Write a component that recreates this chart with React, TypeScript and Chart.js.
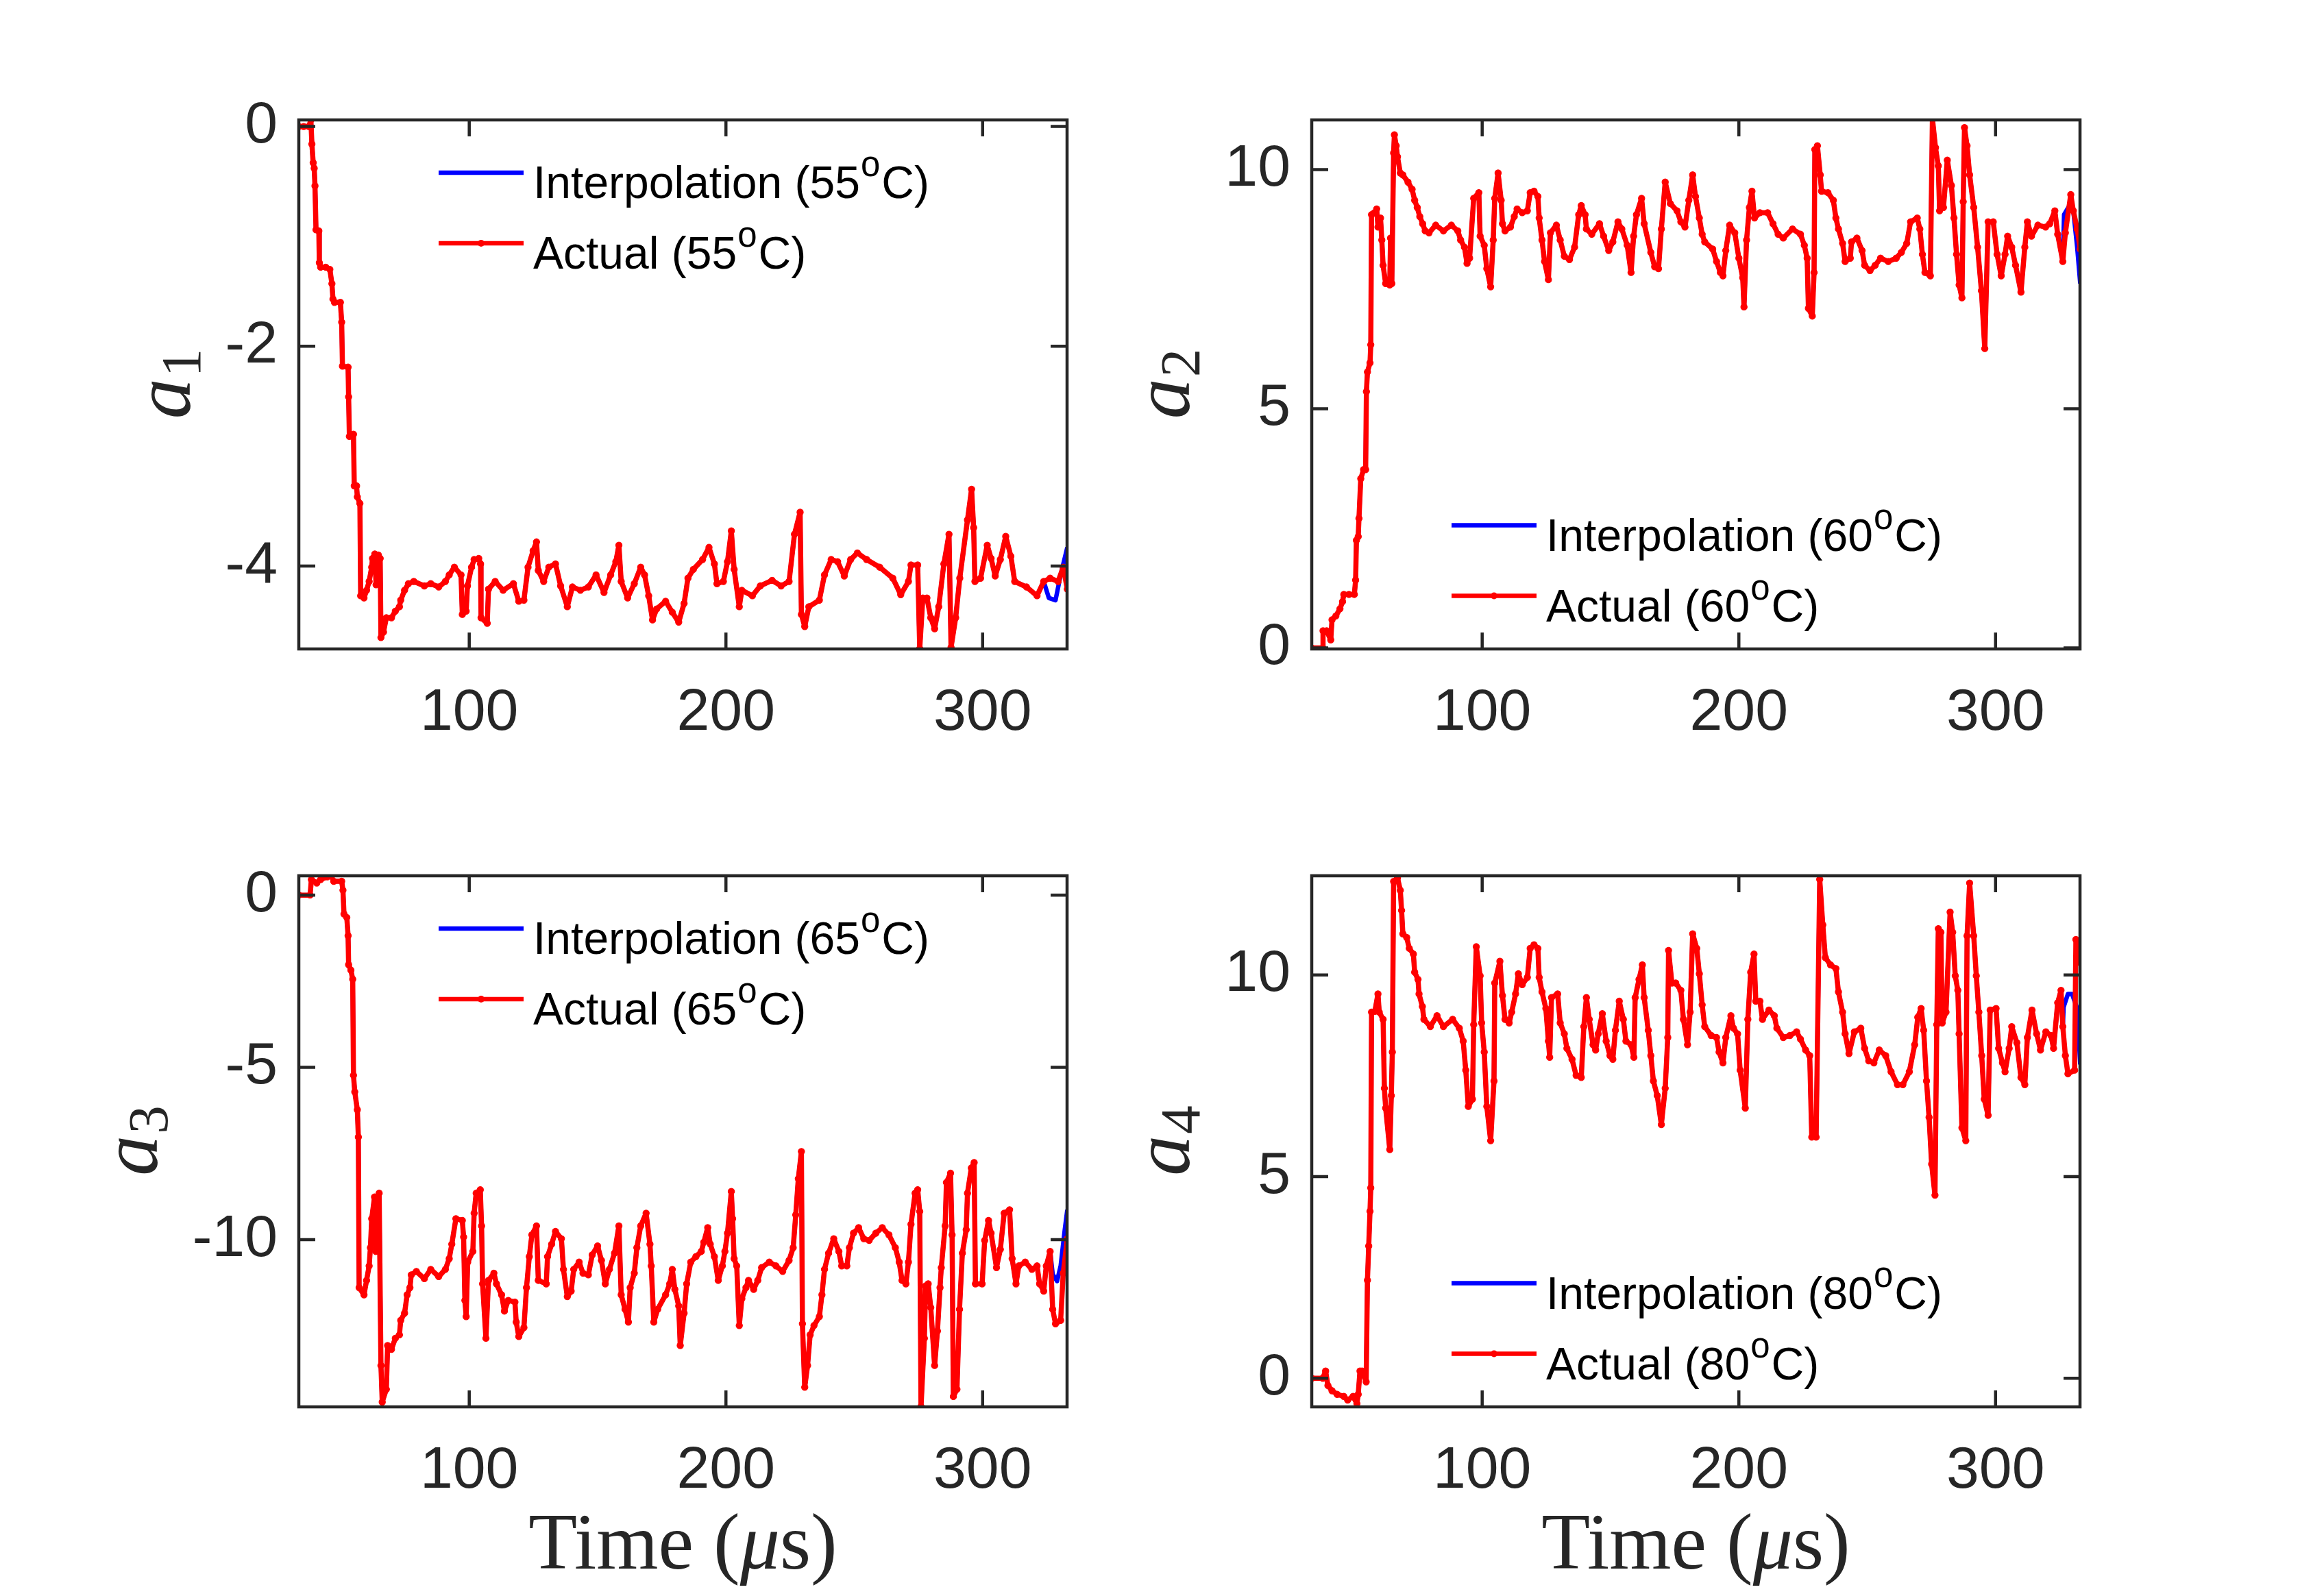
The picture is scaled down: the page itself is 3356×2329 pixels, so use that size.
import { useEffect, useRef } from "react";
import { Chart, registerables } from "chart.js";
import type { Plugin } from "chart.js";

Chart.register(...registerables);

type Pt = [number, number];

// time axis (microseconds)
const timeRange = [33.6, 332.9];
const timeTicks = [100, 200, 300];

// y axes
const a1Ticks = [-4, -2, 0];
const a2Ticks = [0, 5, 10];
const a3Ticks = [-10, -5, 0];
const a4Ticks = [0, 5, 10];
const a1Range = [-4.754, 0.06];
const a2Range = [-0.02, 11.04];
const a3Range = [-14.85, 0.56];
const a4Range = [-0.71, 12.46];

const temps = ["55", "60", "65", "80"];

// a1, 55 C : [time, value]
const a1Actual: Pt[] = [
  [33.6, 0], [35.5, 0], [37.5, 0], [38.3, 0.06], [38.7, -0.16], [39.2, -0.33], [39.6, -0.38],
  [39.9, -0.54], [40.3, -0.94], [41.4, -0.95], [41.6, -1.24], [42.1, -1.28], [44.1, -1.28],
  [45.7, -1.3], [46.5, -1.43], [46.9, -1.57], [47.5, -1.6], [49.8, -1.6], [50.3, -1.78],
  [50.6, -2.18], [52.8, -2.19], [53.0, -2.46], [53.3, -2.82], [54.9, -2.8], [55.2, -3.27],
  [56.1, -3.27], [56.4, -3.37], [57.4, -3.43], [57.7, -4.27], [59.0, -4.29], [60.0, -4.22],
  [61.0, -4.14], [62.0, -4.01], [62.3, -3.93], [63.2, -3.89], [63.7, -4.17], [64.6, -3.9],
  [65.3, -3.93], [65.6, -4.65], [66.6, -4.6], [67.7, -4.47], [69.7, -4.47], [71.2, -4.41],
  [72.8, -4.37], [73.3, -4.31], [74.8, -4.22], [76.3, -4.16], [78.4, -4.14], [82.5, -4.18],
  [85.0, -4.16], [88.1, -4.19], [90.7, -4.14], [92.2, -4.08], [94.2, -4.01], [96.8, -4.08],
  [97.3, -4.44], [98.8, -4.41], [99.3, -4.18], [100.9, -4.01], [101.9, -3.94], [103.7, -3.93],
  [104.4, -3.98], [104.6, -4.47], [107.0, -4.52], [107.5, -4.21], [110.1, -4.14], [113.2, -4.22],
  [117.2, -4.16], [119.3, -4.32], [121.3, -4.31], [122.9, -4.01], [124.9, -3.86], [126.2, -3.78],
  [126.9, -4.04], [129.0, -4.14], [131.0, -4.01], [133.6, -3.98], [135.6, -4.18], [138.2, -4.37],
  [140.2, -4.19], [143.3, -4.22], [146.4, -4.19], [149.4, -4.08], [152.5, -4.24], [155.1, -4.08],
  [157.1, -3.96], [158.3, -3.81], [159.2, -4.14], [161.7, -4.29], [164.3, -4.16], [166.8, -4.01],
  [168.3, -4.08], [169.9, -4.27], [171.4, -4.49], [173.0, -4.39], [176.5, -4.32], [179.1, -4.42],
  [181.6, -4.51], [183.7, -4.34], [185.2, -4.11], [187.3, -4.03], [190.9, -3.94], [193.4, -3.83],
  [195.5, -3.98], [196.5, -4.16], [199.0, -4.14], [200.6, -3.96], [202.1, -3.68], [203.2, -4.03],
  [205.2, -4.37], [206.2, -4.22], [210.3, -4.27], [213.4, -4.18], [218.0, -4.13], [221.5, -4.18],
  [224.6, -4.14], [226.7, -3.71], [228.9, -3.51], [229.4, -4.44], [230.7, -4.55], [232.3, -4.37],
  [236.4, -4.31], [238.4, -4.08], [241.0, -3.94], [243.5, -3.96], [246.1, -4.09], [248.6, -3.94],
  [251.2, -3.88], [254.8, -3.94], [259.9, -4.01], [265.0, -4.11], [268.1, -4.26], [271.1, -4.14],
  [272.1, -3.99], [274.7, -3.99], [275.5, -4.75], [276.7, -4.29], [278.3, -4.29], [279.8, -4.47],
  [281.3, -4.57], [282.9, -4.37], [284.9, -3.98], [286.9, -3.71], [287.7, -4.74], [289.5, -4.47],
  [291.1, -4.11], [294.1, -3.58], [295.7, -3.3], [296.5, -3.65], [297.0, -4.14], [299.2, -4.11],
  [301.8, -3.81], [303.3, -3.93], [304.9, -4.09], [306.9, -3.94], [309.0, -3.73], [311.0, -3.91],
  [312.5, -4.14], [317.1, -4.19], [321.2, -4.27], [323.8, -4.14], [326.3, -4.11], [329.4, -4.14],
  [331.4, -4.01], [333.0, -4.21],
];
const a1InterpTail: Pt[] = [[325.8, -4.29], [328.4, -4.31], [330.4, -4.08], [333.0, -3.83]];

// a2, 60 C
const a2Actual: Pt[] = [
  [33.6, 0], [37.9, 0], [38.0, 0.36], [39.4, 0.36], [41.0, 0.17], [41.5, 0.59], [43.0, 0.67],
  [44.6, 0.82], [45.6, 0.97], [46.1, 1.12], [48.1, 1.12], [50.2, 1.12], [50.7, 1.42], [51.0, 2.25],
  [51.7, 2.33], [52.0, 2.71], [52.7, 3.54], [53.8, 3.73], [54.6, 3.73], [54.9, 5.36], [55.3, 5.77],
  [56.3, 5.96], [56.6, 6.34], [56.9, 9.06], [58.0, 9.1], [58.9, 9.18], [59.4, 8.8], [60.4, 8.99],
  [60.9, 8.53], [61.4, 8.0], [62.4, 7.62], [64.0, 7.59], [64.3, 8.57], [64.8, 7.62], [65.5, 10.35],
  [65.8, 10.73], [66.5, 10.5], [67.0, 10.27], [68.1, 9.93], [69.1, 9.89], [71.1, 9.74], [72.7, 9.59],
  [73.7, 9.36], [74.7, 9.21], [75.7, 9.02], [76.8, 8.87], [77.8, 8.72], [79.3, 8.68], [81.9, 8.84],
  [84.9, 8.72], [88.0, 8.84], [90.5, 8.72], [91.6, 8.53], [93.1, 8.38], [94.1, 8.04], [95.1, 8.15],
  [96.7, 9.4], [98.7, 9.52], [99.2, 8.61], [100.8, 8.42], [101.8, 7.93], [103.3, 7.55], [104.3, 8.53],
  [104.9, 9.4], [106.2, 9.93], [107.4, 9.36], [107.9, 8.87], [108.9, 8.72], [111.0, 8.8], [112.5, 9.02],
  [113.6, 9.18], [115.6, 9.1], [117.6, 9.14], [118.7, 9.52], [120.2, 9.55], [121.7, 9.44], [122.2, 8.99],
  [123.3, 8.53], [124.3, 8.08], [125.8, 7.7], [126.6, 8.68], [128.9, 8.84], [130.4, 8.53], [132.0, 8.19],
  [134.0, 8.12], [136.0, 8.38], [137.6, 9.06], [138.6, 9.25], [140.1, 9.06], [140.6, 8.76], [142.7, 8.65],
  [145.7, 8.87], [147.3, 8.61], [149.3, 8.31], [150.9, 8.49], [152.9, 8.91], [154.4, 8.76], [156.5, 8.42],
  [158.0, 7.85], [159.0, 8.61], [160.1, 9.06], [162.1, 9.4], [163.1, 8.87], [165.7, 8.27], [167.2, 7.97],
  [168.7, 7.93], [169.8, 8.76], [171.3, 9.74], [173.3, 9.29], [175.9, 9.14], [177.4, 8.91], [179.0, 8.8],
  [180.5, 9.36], [182.0, 9.89], [183.1, 9.44], [184.6, 8.99], [185.7, 8.65], [186.7, 8.49], [189.8, 8.34],
  [191.3, 8.08], [192.8, 7.85], [193.8, 7.78], [194.9, 8.31], [196.4, 8.84], [198.4, 8.68], [200.0, 8.15],
  [201.5, 7.74], [202.0, 7.13], [203.0, 8.53], [204.1, 9.21], [205.1, 9.55], [206.1, 8.99], [208.2, 9.1],
  [211.2, 9.1], [213.3, 8.87], [215.3, 8.65], [217.3, 8.57], [220.9, 8.76], [224.0, 8.65], [225.5, 8.42],
  [226.6, 8.15], [227.1, 7.1], [228.6, 6.94], [229.3, 7.85], [229.6, 10.42], [230.6, 10.5], [231.7, 9.89],
  [232.2, 9.55], [234.7, 9.52], [236.8, 9.36], [237.8, 8.99], [238.8, 8.76], [240.4, 8.46], [241.4, 8.08],
  [243.4, 8.15], [243.9, 8.49], [246.0, 8.57], [248.0, 8.31], [249.0, 8.0], [251.1, 7.89], [253.1, 8.0],
  [255.2, 8.15], [258.2, 8.08], [261.3, 8.15], [263.3, 8.27], [265.4, 8.46], [266.9, 8.91], [269.5, 8.99],
  [270.5, 8.76], [271.5, 8.23], [272.5, 7.85], [274.6, 7.78], [275.4, 11.07], [276.6, 10.46], [277.7, 10.08],
  [278.2, 9.14], [279.7, 9.21], [281.2, 10.2], [282.8, 9.67], [283.8, 8.99], [284.8, 8.23], [285.8, 7.59],
  [286.9, 7.32], [287.4, 9.33], [287.9, 10.88], [288.9, 10.5], [289.9, 9.89], [291.5, 9.21], [293.0, 8.38],
  [294.5, 7.47], [295.8, 6.26], [297.1, 8.91], [299.1, 8.91], [300.6, 8.23], [302.2, 7.78], [303.7, 8.23],
  [304.7, 8.61], [306.3, 8.38], [307.8, 8.0], [309.9, 7.44], [311.4, 8.38], [312.4, 8.91], [314.0, 8.61],
  [316.5, 8.84], [319.5, 8.8], [321.1, 8.87], [323.1, 9.14], [324.2, 8.65], [326.2, 8.08], [327.2, 8.68],
  [329.3, 9.48], [330.3, 9.14], [331.8, 8.76], [333.0, 8.34],
];
const a2InterpTail: Pt[] = [[326.7, 9.06], [328.8, 9.25], [330.3, 9.14], [331.8, 8.38], [333.0, 7.62]];

// a3, 65 C
const a3Actual: Pt[] = [
  [33.6, 0], [38.0, 0], [38.5, 0.45], [40.6, 0.35], [42.1, 0.45], [44.7, 0.53], [46.2, 0.56],
  [47.2, 0.4], [50.3, 0.4], [50.8, 0.14], [51.2, -0.55], [52.3, -0.65], [52.8, -1.18], [53.0, -2.02],
  [53.9, -2.18], [54.6, -2.44], [54.9, -5.23], [55.4, -5.71], [56.4, -6.23], [56.8, -7.02],
  [57.1, -11.39], [59.0, -11.6], [60.0, -11.18], [61.0, -10.76], [61.5, -10.23], [62.0, -9.39],
  [63.1, -8.76], [63.6, -10.34], [64.9, -8.65], [65.6, -13.65], [66.1, -14.71], [67.7, -14.34],
  [68.2, -13.07], [69.7, -13.18], [71.2, -12.86], [72.8, -12.76], [73.3, -12.34], [74.8, -12.13],
  [75.8, -11.6], [76.9, -11.39], [77.4, -11.02], [79.4, -10.92], [82.5, -11.13], [85.0, -10.86],
  [88.1, -11.07], [90.7, -10.86], [92.2, -10.55], [93.2, -10.13], [94.8, -9.39], [97.3, -9.44],
  [97.8, -9.92], [98.3, -11.76], [98.8, -12.23], [99.4, -10.65], [101.4, -10.34], [101.9, -9.23],
  [102.7, -8.65], [104.3, -8.55], [104.8, -9.6], [105.2, -11.28], [106.5, -12.86], [107.5, -11.18],
  [109.6, -10.97], [110.6, -11.28], [112.6, -11.6], [113.7, -12.07], [115.2, -11.76], [117.8, -11.81],
  [118.3, -12.39], [119.3, -12.81], [121.3, -12.55], [122.3, -11.39], [123.4, -10.49], [124.4, -9.86],
  [126.2, -9.6], [126.9, -11.18], [130.0, -11.28], [130.5, -10.49], [132.1, -10.13], [133.6, -9.76],
  [135.9, -9.97], [136.7, -10.86], [138.2, -11.65], [139.7, -11.49], [140.7, -10.86], [142.8, -10.65],
  [144.3, -10.97], [146.4, -11.02], [147.9, -10.44], [150.0, -10.18], [151.5, -10.6], [153.0, -11.28],
  [154.6, -10.86], [156.6, -10.39], [158.3, -9.6], [159.2, -11.6], [160.7, -12.02], [162.0, -12.39],
  [162.7, -11.39], [164.3, -10.97], [165.3, -10.23], [166.8, -9.6], [168.9, -9.23], [170.4, -10.13],
  [170.9, -10.76], [171.9, -12.39], [173.4, -12.02], [176.5, -11.6], [178.1, -11.28], [179.1, -10.86],
  [180.1, -11.44], [181.6, -11.92], [182.2, -13.07], [183.7, -12.13], [184.7, -11.28], [186.3, -10.65],
  [188.3, -10.49], [190.4, -10.34], [191.4, -10.07], [192.9, -9.65], [193.9, -10.13], [195.5, -10.49],
  [197.0, -11.18], [198.6, -10.76], [199.6, -10.34], [200.6, -9.81], [202.1, -8.6], [202.6, -9.39],
  [203.2, -10.55], [204.2, -10.76], [205.2, -12.49], [206.2, -11.71], [207.8, -11.39], [208.8, -11.18],
  [210.8, -11.44], [212.4, -11.18], [213.9, -10.81], [216.9, -10.65], [219.5, -10.76], [222.1, -10.92],
  [224.6, -10.6], [226.2, -10.23], [227.2, -9.28], [228.2, -8.23], [229.4, -7.44], [229.8, -12.44],
  [230.7, -14.28], [231.8, -13.65], [232.8, -12.76], [234.3, -12.49], [236.4, -12.23], [237.4, -11.6],
  [238.4, -10.86], [240.0, -10.39], [242.0, -9.97], [244.0, -10.34], [245.1, -10.76], [247.1, -10.76],
  [248.1, -10.23], [249.7, -9.81], [251.7, -9.65], [253.7, -9.97], [255.8, -10.02], [258.4, -9.81],
  [260.9, -9.65], [263.5, -9.86], [266.0, -10.23], [267.5, -10.65], [268.6, -11.18], [270.1, -11.28],
  [271.1, -10.65], [272.1, -9.55], [273.7, -8.65], [274.7, -8.55], [275.5, -9.18], [276.0, -14.84],
  [277.3, -12.86], [277.8, -11.34], [278.8, -11.28], [279.8, -11.97], [281.3, -13.65], [282.4, -12.65],
  [283.4, -11.39], [283.9, -10.81], [285.4, -9.6], [285.9, -8.34], [287.5, -8.07], [288.1, -9.86],
  [288.6, -14.55], [290.0, -14.34], [291.0, -12.02], [292.1, -10.39], [293.6, -9.71], [294.1, -8.65],
  [295.6, -7.92], [296.7, -7.76], [297.2, -11.28], [299.8, -11.28], [300.8, -10.02], [302.3, -9.44],
  [303.3, -9.81], [305.4, -10.81], [306.9, -10.28], [308.4, -9.23], [310.5, -9.13], [311.5, -10.55],
  [313.0, -11.28], [314.1, -10.76], [316.6, -10.65], [319.2, -10.86], [321.2, -10.76], [322.2, -11.28],
  [323.8, -11.49], [324.8, -10.76], [326.3, -10.34], [327.3, -12.02], [328.4, -12.44], [330.4, -12.34],
  [331.4, -10.97], [333.0, -9.97],
];
const a3InterpTail: Pt[] = [[327.3, -11.0], [329.0, -11.2], [330.4, -10.76], [332.0, -9.71], [333.0, -9.13]];

// a4, 80 C
const a4Actual: Pt[] = [
  [33.6, 0], [37.9, 0], [39.0, 0.18], [39.9, -0.18], [41.5, -0.31], [43.5, -0.4], [46.1, -0.45],
  [47.6, -0.54], [49.7, -0.45], [51.2, -0.63], [51.7, -0.4], [52.4, 0.18], [53.2, 0.18], [54.8, -0.09],
  [55.3, 2.43], [55.8, 3.28], [56.3, 4.14], [56.6, 4.72], [56.9, 9.08], [58.2, 9.1], [59.4, 9.53],
  [59.9, 9.08], [61.4, 8.9], [61.9, 7.19], [62.4, 6.7], [64.0, 5.67], [64.6, 7.01], [65.0, 8.09],
  [65.5, 12.32], [67.0, 12.41], [68.1, 12.1], [68.6, 11.6], [69.1, 11.02], [70.6, 10.93], [71.6, 10.66],
  [73.2, 10.52], [73.7, 10.07], [75.0, 9.89], [75.4, 9.53], [76.7, 9.22], [77.3, 8.9], [79.8, 8.72],
  [82.4, 8.99], [84.9, 8.72], [88.5, 8.9], [91.1, 8.68], [92.6, 8.36], [93.6, 7.64], [94.6, 6.74],
  [96.2, 6.92], [96.7, 8.77], [97.7, 10.7], [99.2, 9.98], [99.8, 8.81], [100.8, 8.09], [101.8, 6.74],
  [103.3, 5.89], [104.6, 7.37], [104.9, 9.8], [106.9, 10.34], [107.9, 9.49], [108.9, 8.9], [110.5, 8.81],
  [111.5, 9.08], [113.0, 9.53], [114.1, 10.03], [115.6, 9.76], [117.6, 9.94], [118.7, 10.66], [120.2, 10.75],
  [121.7, 10.66], [122.2, 9.94], [123.3, 9.58], [124.8, 9.17], [125.8, 8.36], [126.3, 7.96], [127.0, 9.44],
  [129.4, 9.53], [130.4, 8.81], [132.0, 8.54], [133.0, 8.18], [135.0, 7.91], [136.6, 7.51], [138.6, 7.46],
  [139.6, 8.72], [140.6, 9.44], [141.7, 8.9], [143.2, 8.27], [144.2, 8.14], [145.2, 8.54], [146.8, 9.04],
  [148.3, 8.36], [149.8, 8.0], [150.9, 7.91], [151.9, 8.63], [153.4, 9.35], [155.0, 8.9], [156.0, 8.36],
  [158.0, 8.27], [159.1, 7.96], [159.6, 9.44], [161.1, 9.89], [162.4, 10.25], [163.1, 9.44], [164.7, 8.63],
  [165.7, 8.0], [166.7, 7.37], [168.2, 7.01], [169.8, 6.29], [171.3, 7.19], [172.3, 8.45], [172.6, 10.61],
  [173.9, 9.8], [175.4, 9.8], [177.4, 9.62], [178.4, 8.9], [180.0, 8.27], [181.0, 9.08], [182.0, 11.02],
  [183.6, 10.66], [184.6, 10.03], [185.7, 9.26], [186.7, 8.72], [189.2, 8.5], [191.3, 8.45], [192.3, 8.09],
  [193.8, 7.82], [194.9, 8.45], [196.9, 8.99], [197.9, 8.68], [199.5, 8.54], [200.5, 7.64], [202.5, 6.7],
  [203.5, 8.9], [204.6, 10.07], [205.9, 10.52], [206.6, 9.35], [208.2, 9.35], [209.2, 8.9], [211.7, 9.13],
  [213.8, 8.99], [214.8, 8.68], [217.3, 8.45], [219.9, 8.5], [222.5, 8.59], [224.0, 8.41], [226.0, 8.14],
  [227.6, 8.0], [228.4, 5.98], [230.1, 5.98], [231.5, 12.37], [232.7, 11.24], [233.7, 10.43], [235.7, 10.25],
  [237.8, 10.16], [238.8, 9.58], [240.4, 9.08], [241.4, 8.54], [242.9, 8.05], [245.0, 8.59], [247.5, 8.68],
  [249.0, 8.18], [250.6, 7.87], [252.6, 7.82], [254.7, 8.14], [257.2, 8.0], [259.3, 7.6], [261.8, 7.28],
  [263.9, 7.28], [266.4, 7.6], [268.5, 8.27], [269.7, 8.95], [271.0, 9.17], [272.0, 8.63], [273.1, 7.37],
  [274.1, 6.47], [275.1, 5.31], [276.4, 4.54], [277.1, 8.77], [277.7, 11.15], [278.7, 11.06], [279.2, 8.81],
  [280.7, 9.08], [282.3, 11.56], [283.3, 11.06], [284.3, 9.98], [285.3, 9.62], [285.8, 8.54], [286.9, 6.21],
  [288.4, 5.89], [288.9, 10.97], [289.9, 12.28], [291.5, 10.97], [292.5, 9.98], [293.5, 9.08], [294.6, 8.0],
  [295.6, 6.92], [297.1, 6.52], [297.9, 9.13], [300.2, 9.17], [301.2, 8.18], [302.7, 7.82], [303.7, 7.6],
  [305.3, 8.18], [306.3, 8.72], [308.3, 8.32], [309.9, 7.46], [311.4, 7.28], [312.4, 8.45], [314.2, 9.13],
  [316.0, 8.54], [317.5, 8.14], [319.6, 8.59], [321.6, 8.5], [322.6, 8.18], [324.2, 9.31], [325.5, 9.62],
  [326.2, 8.72], [327.2, 8.0], [328.2, 7.55], [330.8, 7.64], [331.3, 10.88], [332.3, 10.43], [333.0, 10.3],
];
const a4InterpTail: Pt[] = [[326.5, 9.2], [328.2, 9.53], [329.8, 9.53], [331.8, 9.17], [333.0, 7.78]];

// ---- look ----
const SANS = '"Liberation Sans", Arial, Helvetica, sans-serif';
const SERIF = '"Liberation Serif", "Times New Roman", serif';
const INK = "#262626";
const RED = "#ff0000";
const BLUE = "#0000ff";
const LINE_W = 6.5;
const RED_W = 7.5;
const POINT_R = 4.6;
const FRAME_W = 4.5;
const TICK_LEN = 24;
const TICK_SIZE = 86;
const TICK_PAD_Y = 31;
const TICK_PAD_X = 43;
const LEG_SIZE = 66;
const SUP_SIZE = 51;
const YLAB_SIZE = 118;
const XLAB_SIZE = 116;

// canvas margins around each axes box
const M_LEFT = 420;
const M_TOP = 130;
const M_RIGHT = 60;
const M_BOTTOM = 290;

type PanelSpec = {
  sub: string;
  temp: string;
  actual: Pt[];
  tail: Pt[];
  yTicks: number[];
  yRange: number[];
  box: [number, number, number, number];
  legendTop: boolean;
  xLabel: boolean;
};

const panels: PanelSpec[] = [
  { sub: "1", temp: temps[0], actual: a1Actual, tail: a1InterpTail, yTicks: a1Ticks, yRange: a1Range, box: [436, 175, 1557, 947], legendTop: true, xLabel: false },
  { sub: "2", temp: temps[1], actual: a2Actual, tail: a2InterpTail, yTicks: a2Ticks, yRange: a2Range, box: [1914, 175, 3035, 947], legendTop: false, xLabel: false },
  { sub: "3", temp: temps[2], actual: a3Actual, tail: a3InterpTail, yTicks: a3Ticks, yRange: a3Range, box: [436, 1278, 1557, 2053], legendTop: true, xLabel: true },
  { sub: "4", temp: temps[3], actual: a4Actual, tail: a4InterpTail, yTicks: a4Ticks, yRange: a4Range, box: [1914, 1278, 3035, 2053], legendTop: false, xLabel: true },
];

function legendText(ctx: CanvasRenderingContext2D, x: number, y: number, name: string, temp: string) {
  ctx.fillStyle = "#000";
  ctx.textAlign = "left";
  ctx.textBaseline = "alphabetic";
  ctx.font = `${LEG_SIZE}px ${SANS}`;
  const head = `${name} (${temp}`;
  ctx.fillText(head, x, y);
  let cx = x + ctx.measureText(head).width + 1;
  ctx.font = `${SUP_SIZE}px ${SANS}`;
  ctx.fillText("o", cx, y - 32);
  cx += ctx.measureText("o").width + 2;
  ctx.font = `${LEG_SIZE}px ${SANS}`;
  ctx.fillText("C)", cx, y);
}

function makeDecor(p: PanelSpec): Plugin<"line"> {
  return {
    id: "matlabDecor" + p.sub,
    afterDraw(chart) {
      const { ctx, chartArea: a, scales } = chart;
      const xs = scales.x;
      const ys = scales.y;
      ctx.save();

      // box and inward ticks on all four sides
      ctx.strokeStyle = INK;
      ctx.lineWidth = FRAME_W;
      ctx.lineCap = "butt";
      ctx.strokeRect(a.left, a.top, a.right - a.left, a.bottom - a.top);
      ctx.beginPath();
      for (const t of xs.ticks) {
        const x = xs.getPixelForValue(t.value);
        ctx.moveTo(x, a.bottom);
        ctx.lineTo(x, a.bottom - TICK_LEN);
        ctx.moveTo(x, a.top);
        ctx.lineTo(x, a.top + TICK_LEN);
      }
      for (const t of ys.ticks) {
        const y = ys.getPixelForValue(t.value);
        ctx.moveTo(a.left, y);
        ctx.lineTo(a.left + TICK_LEN, y);
        ctx.moveTo(a.right, y);
        ctx.lineTo(a.right - TICK_LEN, y);
      }
      ctx.stroke();

      // legend
      const rows = p.legendTop ? [a.top + 114, a.top + 217] : [a.bottom - 143.5, a.bottom - 40.5];
      const x0 = a.left + 204;
      const x1 = a.left + 328;
      ctx.lineWidth = LINE_W;
      ctx.strokeStyle = BLUE;
      ctx.beginPath();
      ctx.moveTo(x0, rows[0] - 37);
      ctx.lineTo(x1, rows[0] - 37);
      ctx.stroke();
      ctx.strokeStyle = RED;
      ctx.beginPath();
      ctx.moveTo(x0, rows[1] - 37);
      ctx.lineTo(x1, rows[1] - 37);
      ctx.stroke();
      ctx.fillStyle = RED;
      ctx.beginPath();
      ctx.arc((x0 + x1) / 2, rows[1] - 37, POINT_R + 0.4, 0, Math.PI * 2);
      ctx.fill();
      legendText(ctx, a.left + 342, rows[0], "Interpolation", p.temp);
      legendText(ctx, a.left + 342, rows[1], "Actual", p.temp);

      // y label  a_n  (rotated)
      ctx.font = `${TICK_SIZE}px ${SANS}`;
      const maxW = Math.max(...p.yTicks.map((v) => ctx.measureText(String(v)).width));
      const base = a.left - TICK_PAD_Y - maxW - 52;
      const cy = (a.top + a.bottom) / 2;
      ctx.translate(base, cy);
      ctx.rotate(-Math.PI / 2);
      ctx.fillStyle = INK;
      ctx.textAlign = "left";
      ctx.textBaseline = "alphabetic";
      ctx.font = `italic ${YLAB_SIZE}px ${SERIF}`;
      const wA = ctx.measureText("a").width;
      ctx.font = `${Math.round(YLAB_SIZE * 0.7)}px ${SERIF}`;
      const wS = ctx.measureText(p.sub).width;
      const sx = -(wA + wS) / 2;
      ctx.font = `italic ${YLAB_SIZE}px ${SERIF}`;
      ctx.fillText("a", sx, 0);
      ctx.font = `${Math.round(YLAB_SIZE * 0.7)}px ${SERIF}`;
      ctx.fillText(p.sub, sx + wA + 2, 15);
      ctx.restore();

      // x label
      if (p.xLabel) {
        ctx.save();
        ctx.fillStyle = INK;
        ctx.textBaseline = "alphabetic";
        ctx.textAlign = "left";
        const parts: [string, string][] = [
          ["Time (", `${XLAB_SIZE}px ${SERIF}`],
          ["\u03bc", `italic ${XLAB_SIZE}px ${SERIF}`],
          ["s)", `${XLAB_SIZE}px ${SERIF}`],
        ];
        let total = 0;
        for (const [s, f] of parts) {
          ctx.font = f;
          total += ctx.measureText(s).width;
        }
        let cx = (a.left + a.right) / 2 - total / 2;
        const by = a.bottom + 236;
        for (const [s, f] of parts) {
          ctx.font = f;
          ctx.fillText(s, cx, by);
          cx += ctx.measureText(s).width;
        }
        ctx.restore();
      }
    },
  };
}

function PanelChart({ p }: { p: PanelSpec }) {
  const canvasRef = useRef<HTMLCanvasElement | null>(null);
  const [L, T, R, B] = p.box;
  const w = R - L + M_LEFT + M_RIGHT;
  const h = B - T + M_TOP + M_BOTTOM;

  useEffect(() => {
    if (!canvasRef.current) return;
    const start = p.tail[0][0];
    const interp = p.actual.filter(([t]) => t < start).concat(p.tail);
    const chart = new Chart(canvasRef.current, {
      type: "line",
      data: {
        datasets: [
          {
            label: `Actual (${p.temp}oC)`,
            data: p.actual.map(([x, y]) => ({ x, y })),
            borderColor: RED,
            backgroundColor: RED,
            borderWidth: RED_W,
            borderJoinStyle: "round",
            pointRadius: POINT_R,
            pointHoverRadius: POINT_R,
            pointBorderWidth: 1.2,
            pointBackgroundColor: RED,
            pointBorderColor: RED,
            tension: 0,
            fill: false,
          },
          {
            label: `Interpolation (${p.temp}oC)`,
            data: interp.map(([x, y]) => ({ x, y })),
            borderColor: BLUE,
            backgroundColor: BLUE,
            borderWidth: LINE_W,
            borderJoinStyle: "round",
            pointRadius: 0,
            pointHoverRadius: 0,
            tension: 0,
            fill: false,
          },
        ],
      },
      options: {
        animation: false,
        responsive: false,
        events: [],
        layout: { padding: { left: 0, top: M_TOP, right: M_RIGHT, bottom: 0 } },
        plugins: { legend: { display: false }, tooltip: { enabled: false } },
        scales: {
          x: {
            type: "linear",
            min: timeRange[0],
            max: timeRange[1],
            afterBuildTicks: (s) => {
              s.ticks = timeTicks.map((value) => ({ value }));
            },
            afterFit: (s) => {
              s.height = M_BOTTOM;
            },
            grid: { display: false, drawTicks: false },
            border: { display: false },
            ticks: {
              autoSkip: false,
              maxRotation: 0,
              minRotation: 0,
              padding: TICK_PAD_X,
              color: INK,
              font: { family: SANS, size: TICK_SIZE },
              callback: (v) => String(v),
            },
          },
          y: {
            type: "linear",
            min: p.yRange[0],
            max: p.yRange[1],
            afterBuildTicks: (s) => {
              s.ticks = p.yTicks.map((value) => ({ value }));
            },
            afterFit: (s) => {
              s.width = M_LEFT;
            },
            grid: { display: false, drawTicks: false },
            border: { display: false },
            ticks: {
              autoSkip: false,
              padding: TICK_PAD_Y,
              color: INK,
              font: { family: SANS, size: TICK_SIZE },
              callback: (v) => String(v),
            },
          },
        },
      },
      plugins: [makeDecor(p)],
    });
    return () => {
      chart.destroy();
    };
  }, [p]);

  return (
    <canvas
      ref={canvasRef}
      width={w}
      height={h}
      style={{ position: "absolute", left: L - M_LEFT, top: T - M_TOP, width: w, height: h }}
    />
  );
}

export default function App() {
  return (
    <div
      style={{
        position: "fixed",
        left: 0,
        top: 0,
        width: 3356,
        height: 2329,
        background: "#ffffff",
        overflow: "hidden",
      }}
    >
      {panels.map((p) => (
        <PanelChart key={p.sub} p={p} />
      ))}
    </div>
  );
}
